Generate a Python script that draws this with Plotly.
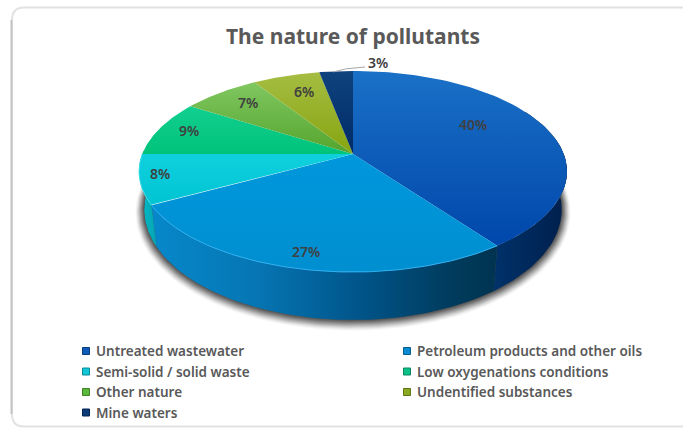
import numpy as np
import plotly.graph_objects as go

# Chart content
title = "The nature of pollutants"
categories = ["Untreated wastewater", "Petroleum products and other oils",
              "Semi-solid / solid waste", "Low oxygenations conditions",
              "Other nature", "Undentified substances", "Mine waters"]
shares = [40, 27, 8, 9, 7, 6, 3]

# Face shading: (lighter, darker) ends of each slice's vertical gradient
top_shades = [("#1a70c6", "#0047ab"), ("#0097dc", "#008fd0"), ("#10d0de", "#00c4d2"),
              ("#12cf90", "#00c37a"), ("#80c760", "#55a42e"), ("#a6bd42", "#86a410"),
              ("#0f437e", "#002a66")]
# Side wall shading, left to right across each visible wall
wall_scales = [
    [[0, "#00326a"], [1, "#001f4c"]],
    [[0, "#0688ca"], [0.3, "#0676b4"], [0.6, "#00558a"], [0.85, "#003d60"], [1, "#003350"]],
    [[0, "#07bcc8"], [1, "#02a5b4"]],
]
key_shades = ["#0f5cb8", "#0a8ad0", "#12c6d8", "#0cc088", "#5cb83c", "#8aa820", "#0c3c78"]
key_edges = ["#0a3d80", "#065f90", "#0a8c98", "#088860", "#3e8028", "#607414", "#062450"]

W, H = 683, 429

# Perspective disc: near rim is drawn larger than far rim, hub sits above the ellipse middle
HUB_X, HUB_Y = 353.0, 154.0
SPAN_X, SPAN_Y, TILT = 210.7, 97.5, 0.174
BASE_SPAN_X, BASE_SPAN_Y, BASE_Y = 205.5, 107.0, 190.4


def rim(deg):
    """Upper rim point for an angle measured clockwise from twelve o'clock."""
    a = np.radians(deg)
    u, v = np.sin(a), -np.cos(a)
    d = 1 - TILT * v
    return HUB_X + SPAN_X * u / d, HUB_Y + SPAN_Y * v / d


def base_rim(deg):
    """Lower rim of the disc wall."""
    a = np.radians(deg)
    u, v = np.sin(a), -np.cos(a)
    d = 1 - TILT * v
    return HUB_X + BASE_SPAN_X * u / d, BASE_Y + BASE_SPAN_Y * v / d


edges = np.cumsum([0] + shares) * 3.6
fig = go.Figure()

# Soft drop shadow under the disc: stacked translucent outlines
arc = np.linspace(62, 272, 160)
bx, by = base_rim(arc)
ang = np.radians(arc)
tx, ty = rim(arc[::-1])
for grow, alpha in zip(np.linspace(15, 0, 16), np.linspace(0.02, 0.14, 16)):
    sx = bx + grow * 0.62 * np.sin(ang)
    sy = by + grow * 0.55 * np.clip(-np.cos(ang), 0, 1) + grow * 0.18
    fig.add_trace(go.Scatter(x=np.r_[sx, tx], y=np.r_[sy, ty], mode="lines", fill="toself",
                             fillcolor=f"rgba(20,20,20,{alpha:.3f})", line=dict(width=0),
                             hoverinfo="skip", showlegend=False))

# Side walls, only where the rim faces the viewer
for i, scale in enumerate(wall_scales):
    lo, hi = max(edges[i], 80), min(edges[i + 1], 280)
    deg = np.linspace(lo, hi, 60)
    wx, wy = rim(deg)
    bx, by = base_rim(deg)
    fig.add_trace(go.Scatter(
        x=np.r_[wx, bx[::-1]], y=np.r_[wy, by[::-1]], mode="lines", fill="toself",
        fillgradient=dict(type="horizontal", colorscale=scale),
        line=dict(width=0), hoverinfo="skip", showlegend=False))

# Top faces
for i, name in enumerate(categories):
    deg = np.linspace(edges[i], edges[i + 1], 90)
    rx, ry = rim(deg)
    light, dark = top_shades[i]
    fig.add_trace(go.Scatter(
        x=np.r_[HUB_X, rx, HUB_X], y=np.r_[HUB_Y, ry, HUB_Y], mode="lines", fill="toself",
        fillgradient=dict(type="vertical", colorscale=[[0, dark], [1, light]]),
        line=dict(width=0), name=name, hoverinfo="name+text", text=f"{shares[i]}%",
        showlegend=False))

# Bright highlight along the near rim of the second and third slices
for i, glow in ((1, "#2fb0f2"), (2, "#3fe0ea")):
    rx, ry = rim(np.linspace(edges[i], edges[i + 1], 120))
    fig.add_trace(go.Scatter(x=rx, y=ry, mode="lines", line=dict(color=glow, width=1),
                             hoverinfo="skip", showlegend=False))

# Leader line to the smallest slice's label
mx, my = rim((edges[6] + edges[7]) / 2 - 1)
fig.add_trace(go.Scatter(x=[mx + 0.5, mx + 13, 365], y=[my + 0.5, my - 2.5, 67], mode="lines",
                         line=dict(color="#a6a6a6", width=1), hoverinfo="skip", showlegend=False))

# Legend keys in two columns
LEGEND_COLS = (86, 407)
LEGEND_ROWS = (351, 371.5, 392, 412.5)
TEXT_FONT = "Noto Sans"
annotations = []
for i, name in enumerate(categories):
    col, row = i % 2, i // 2
    kx, ky = LEGEND_COLS[col], LEGEND_ROWS[row]
    fig.add_trace(go.Scatter(x=[kx], y=[ky], mode="markers", hoverinfo="skip", showlegend=False,
                             marker=dict(symbol="square", size=7, color=key_shades[i],
                                         line=dict(color=key_edges[i], width=1))))
    annotations.append(dict(x=kx + 7.5, y=ky, text=name, xanchor="left", yanchor="middle", showarrow=False,
                            font=dict(family=TEXT_FONT, size=13.5, color="#595959", weight=600)))

# Percentage labels
label_spots = [(473, 124), (306, 251), (160, 173), (189, 130), (248, 102), (304, 91), (378, 62)]
for share, (lx, ly) in zip(shares, label_spots):
    annotations.append(dict(x=lx, y=ly, text=f"{share}%", showarrow=False,
                            font=dict(family=TEXT_FONT, size=14, color="#404040", weight=600)))

annotations.append(dict(x=353, y=36, text=title, showarrow=False,
                        font=dict(family=TEXT_FONT, size=21, color="#595959", weight=700)))

# Rounded chart frame running off the right-hand side
frame = f"M {W + 2} 7.5 L 24 7.5 Q 12 7.5 12 20 L 12 414 Q 12 426.5 24 426.5 L {W + 2} 426.5"
shapes = [
    dict(type="path", path=frame, line=dict(color="#e2e2e2", width=2), layer="below"),
    dict(type="line", x0=11.5, x1=11.5, y0=20, y1=414, line=dict(color="#c4c4c4", width=2), layer="below"),
]

fig.update_layout(
    width=W, height=H, margin=dict(l=0, r=0, t=0, b=0),
    paper_bgcolor="white", plot_bgcolor="white", showlegend=False,
    xaxis=dict(range=[0, W], visible=False, fixedrange=True),
    yaxis=dict(range=[H, 0], visible=False, fixedrange=True),
    annotations=annotations, shapes=shapes,
)
fig.write_html("out.html")
